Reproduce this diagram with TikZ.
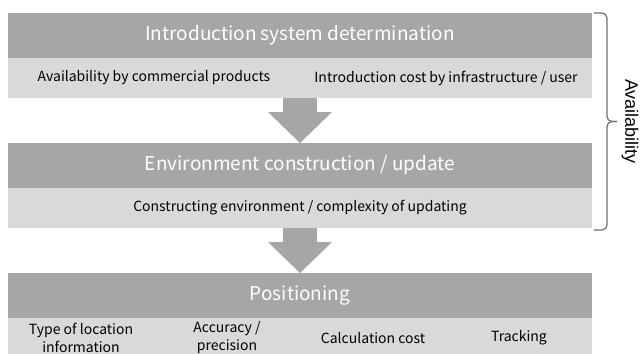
\documentclass[tikz,border=0pt]{standalone}
\usepackage{fontspec}
\setmainfont{Noto Sans CJK JP}
\newfontfamily\sidefont{Liberation Sans}
\usetikzlibrary{arrows.meta, positioning}
\definecolor{flowDark}{RGB}{166,166,166}
\definecolor{flowLight}{RGB}{217,217,217}
\definecolor{flowBrace}{RGB}{110,110,110}

\begin{document}
\begin{tikzpicture}[x=1pt, y=-1pt,
    phase/.style={fill=flowDark, text=white, minimum width=584pt, minimum height=45pt, inner sep=0pt, outer sep=0pt,
    font=\fontsize{19}{22}\selectfont},
    factor/.style={fill=flowLight, text=black, minimum height=40pt, inner sep=0pt, outer sep=0pt, align=center,
    font=\fontsize{14}{18}\selectfont},
    flow/.style={draw=flowDark, line width=34pt, -{Triangle[width=64pt, length=31pt, line width=0pt]}},
    bracket/.style={draw=flowBrace, line width=1.2pt, rounded corners=5pt}
  ]
  \useasboundingbox (0,0) rectangle (641,354);
  \node[phase] (intro) at (300,35.5) {Introduction system determination};
  \node[factor, minimum width=292pt, below right=0pt and 0pt of intro.south west] (avail) {Availability by commercial products};
  \node[factor, minimum width=292pt, right=0pt of avail] (cost) {Introduction cost by infrastructure / user};

  \node[phase, below=45pt of intro.south |- avail.south, anchor=north] (env) {Environment construction / update};
  \node[factor, minimum width=584pt, below=0pt of env] (build) {Constructing environment / complexity of updating};

  \node[phase, below=45pt of build] (pos) {Positioning};
  \node[factor, minimum width=146pt, below right=0pt and 0pt of pos.south west] (loc) {Type of location\\information};
  \node[factor, minimum width=146pt, right=0pt of loc] (acc) {Accuracy /\\precision};
  \node[factor, minimum width=146pt, right=0pt of acc] (calc) {Calculation cost};
  \node[factor, minimum width=146pt, right=0pt of calc] (track) {Tracking};

  \draw[flow] (intro.south |- avail.south) -- (env.north);
  \draw[flow] (build.south) -- (pos.north);

  \coordinate (bracetop) at (594,13);
  \coordinate (bracebot) at (594,230);
  \coordinate (bracemid) at (617,121.5);
  \draw[bracket] (bracetop) -- (607,13) -- (607,121.5) -- (bracemid);
  \draw[bracket] (bracebot) -- (607,230) -- (607,121.5) -- (bracemid);
  \node[font=\sidefont\fontsize{18}{20}\selectfont, rotate=-90, inner sep=0pt] (availability) at (630,121.5) {Availability};
\end{tikzpicture}
\end{document}
